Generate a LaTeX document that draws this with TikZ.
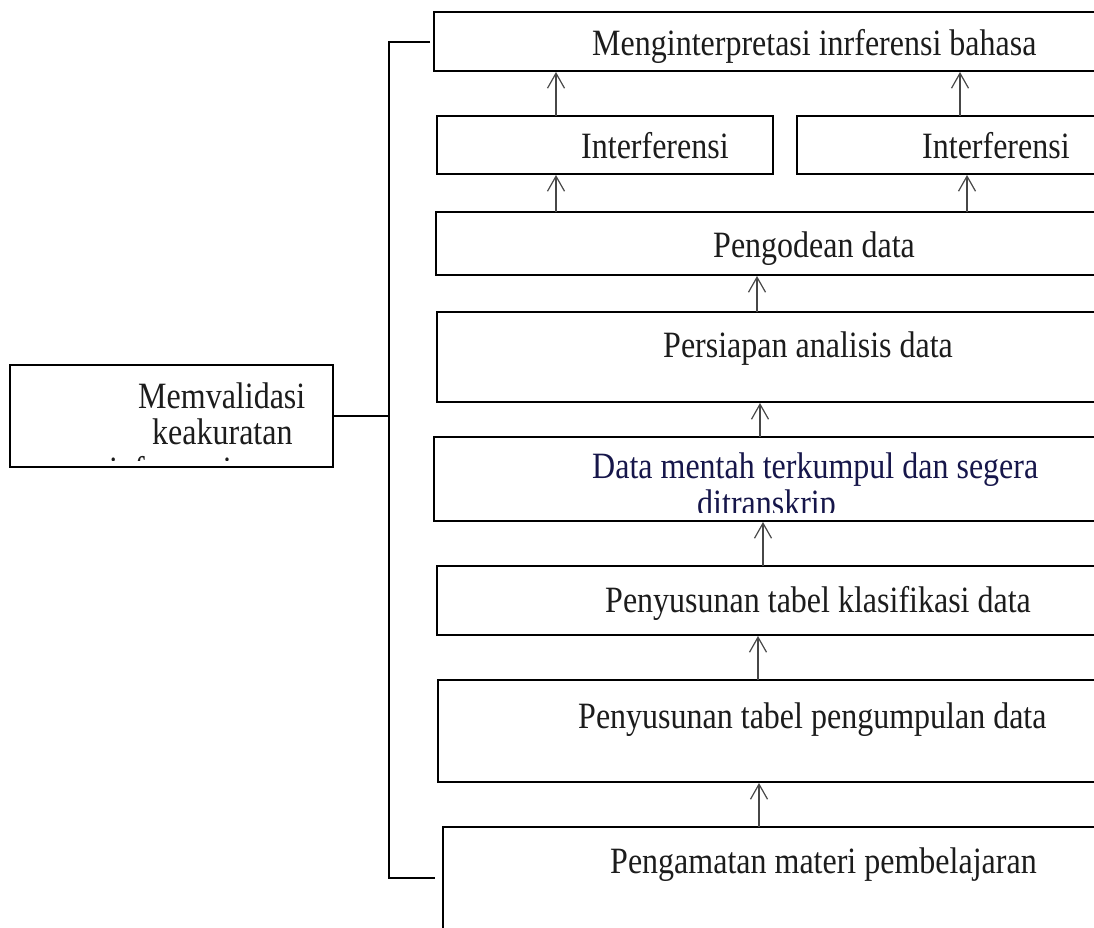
\documentclass[tikz,border=0pt]{standalone}
\usepackage{fontspec}
\setmainfont{Liberation Serif}
\usetikzlibrary{arrows.meta}
\definecolor{inkgray}{HTML}{1C1C1C}
\definecolor{inknavy}{HTML}{16164A}
% box captions are set slightly taller than the font's natural shape
\newcommand\tallcap[1]{\scalebox{1}[1.16]{#1}}
\begin{document}
\begin{tikzpicture}[x=1pt,y=-1pt,
  stagebox/.style={draw=black, line width=1.4pt, anchor=north west, inner sep=0pt, outer sep=0pt},
  caption/.style={anchor=base west, inner sep=0pt, text=inkgray, font=\fontsize{32}{36}\selectfont},
  flow/.style={draw=black!72, line width=1.2pt, shorten >=1pt,
    -{Straight Barb[length=15pt,width=17pt,line width=1.2pt]}},
  bracket/.style={draw=black, line width=2.8pt}]
\useasboundingbox (0,0) rectangle (1094,927);
\clip (0,0) rectangle (1094,927);

% stage boxes (they run past the right edge)
\node[stagebox, minimum width=676pt, minimum height=59pt]  (interp) at (434,12) {};
\node[stagebox, minimum width=336pt, minimum height=58pt]  (intL)   at (437,116) {};
\node[stagebox, minimum width=313pt, minimum height=58pt]  (intR)   at (797,116) {};
\node[stagebox, minimum width=674pt, minimum height=63pt]  (kode)   at (436,212) {};
\node[stagebox, minimum width=673pt, minimum height=90pt]  (siap)   at (437,312) {};
\node[stagebox, minimum width=676pt, minimum height=84pt]  (mentah) at (434,437) {};
\node[stagebox, minimum width=673pt, minimum height=69pt]  (klas)   at (437,566) {};
\node[stagebox, minimum width=672pt, minimum height=102pt] (kumpul) at (438,680) {};
\node[stagebox, minimum width=667pt, minimum height=130pt] (amat)   at (443,827) {};
\node[stagebox, minimum width=323pt, minimum height=102pt] (valid)  at (10,365) {};

% box texts
\node[caption] (tInterp) at (592,55)  {\tallcap{Menginterpretasi inrferensi bahasa}};
\node[caption] (tIntL)   at (581,158) {\tallcap{Interferensi}};
\node[caption] (tIntR)   at (922,158) {\tallcap{Interferensi}};
\node[caption] (tKode)   at (713,257) {\tallcap{Pengodean data}};
\node[caption] (tSiap)   at (663,357) {\tallcap{Persiapan analisis data}};
\node[caption, text=inknavy] (tMentah) at (592,478) {\tallcap{Data mentah terkumpul dan segera}};
\begin{scope}
  \clip (434,437) rectangle (1094,512);
  \node[caption, text=inknavy] (tMentahB) at (697,515) {\tallcap{ditranskrip}};
\end{scope}
\node[caption] (tKlas)   at (605,612) {\tallcap{Penyusunan tabel klasifikasi data}};
\node[caption] (tKumpul) at (578,728) {\tallcap{Penyusunan tabel pengumpulan data}};
\node[caption] (tAmat)   at (610,873) {\tallcap{Pengamatan materi pembelajaran}};
\node[caption] (tValidA) at (138,408) {\tallcap{Memvalidasi}};
\node[caption] (tValidB) at (152,444) {\tallcap{keakuratan}};
\begin{scope}
  \clip (10,365) rectangle (333,460);
  \node[caption] (tValidC) at (109,482) {\tallcap{informasi}};
\end{scope}

% upward flow arrows
\coordinate (xa) at (556,0);
\coordinate (xb) at (960,0);
\coordinate (xc) at (967,0);
\coordinate (xd) at (757,0);
\coordinate (xe) at (760,0);
\coordinate (xf) at (763,0);
\coordinate (xg) at (758,0);
\coordinate (xh) at (759,0);
\draw[flow] (intL.north -| xa)   -- (interp.south -| xa);
\draw[flow] (intR.north -| xb)   -- (interp.south -| xb);
\draw[flow] (kode.north -| xa)   -- (intL.south -| xa);
\draw[flow] (kode.north -| xc)   -- (intR.south -| xc);
\draw[flow] (siap.north -| xd)   -- (kode.south -| xd);
\draw[flow] (mentah.north -| xe) -- (siap.south -| xe);
\draw[flow] (klas.north -| xf)   -- (mentah.south -| xf);
\draw[flow] (kumpul.north -| xg) -- (klas.south -| xg);
\draw[flow] (amat.north -| xh)   -- (kumpul.south -| xh);

% validation bracket
\coordinate (brTop) at (389,42);
\coordinate (brBot) at (389,878);
\coordinate (brEnd) at (435,878);
\draw[bracket] ([xshift=-4pt]interp.west |- brTop) -- (brTop) -- (brBot) -- (brEnd);
\draw[bracket] (valid.east) -- (valid.east -| brTop);
\end{tikzpicture}
\end{document}
